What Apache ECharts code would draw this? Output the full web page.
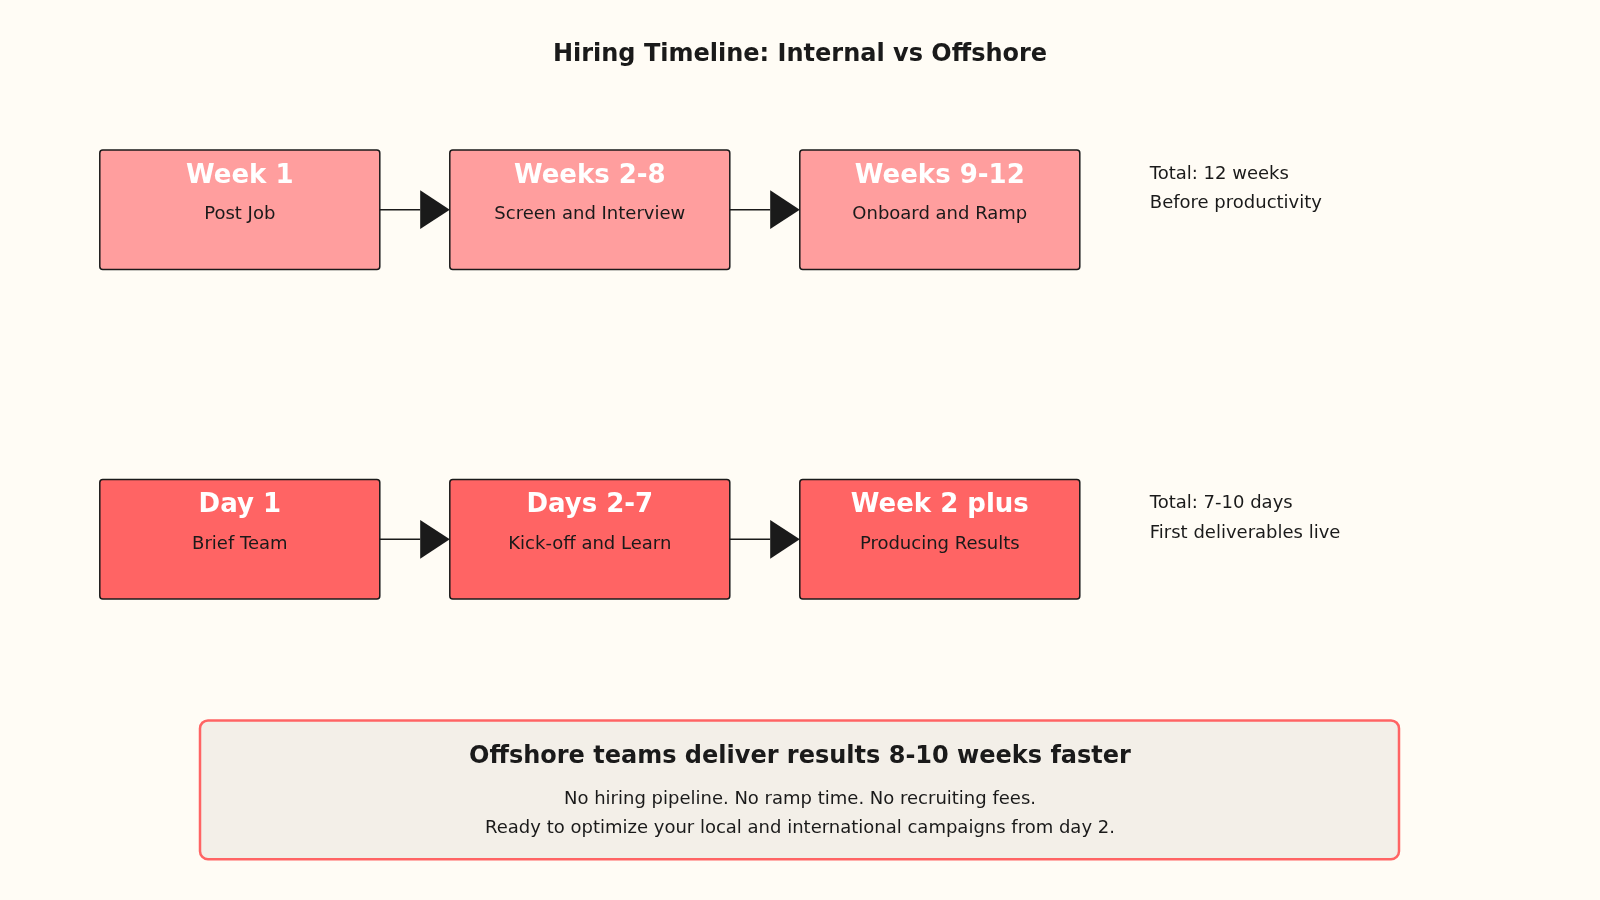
<!DOCTYPE html>
<html><head><meta charset="utf-8">
<script src="https://cdn.jsdelivr.net/npm/echarts@6/dist/echarts.min.js"></script>
<style>html,body{margin:0;padding:0;background:#FFFCF5}#c{width:1600px;height:900px}</style>
</head><body><div id="c"></div>
<script>
const chartTitle = 'Hiring Timeline: Internal vs Offshore';
const rows = ['Internal', 'Offshore'];
const stageTitles = [['Week 1','Weeks 2-8','Weeks 9-12'],['Day 1','Days 2-7','Week 2 plus']];
const stageLabels = [['Post Job','Screen and Interview','Onboard and Ramp'],['Brief Team','Kick-off and Learn','Producing Results']];
const totals = [['Total: 12 weeks','Before productivity'],['Total: 7-10 days','First deliverables live']];
const rowColors = ['#FF9E9E','#FF6464'];
const summaryTitle = 'Offshore teams deliver results 8-10 weeks faster';
const summaryLines = ['No hiring pipeline. No ramp time. No recruiting fees.','Ready to optimize your local and international campaigns from day 2.'];

const boxData = [];
stageTitles.forEach((r, ri) => r.forEach((t, si) => boxData.push([si, ri, t, stageLabels[ri][si], si < r.length - 1 ? 1 : 0])));
const noteData = totals.map((t, ri) => [2.6, ri, t[0], t[1]]);

const F = 'DejaVu Sans, sans-serif';
const X0 = 239.8, DX = 350, Y0 = 209.7, DY = 329.6;
const chart = echarts.init(document.getElementById('c'));
chart.setOption({
  backgroundColor: '#FFFCF5',
  animation: false,
  title: {text: chartTitle, left: 'center', top: 38, textStyle: {fontFamily: F, fontSize: 24, fontWeight: 'bold', color: '#1a1a1a'}},
  grid: {left: 0, top: 0, width: 1600, height: 900},
  xAxis: {type: 'value', min: -X0/DX, max: (1600-X0)/DX, show: false},
  yAxis: {type: 'value', inverse: true, min: -Y0/DY, max: (900-Y0)/DY, show: false},
  series: [{
    type: 'custom',
    data: boxData,
    renderItem: (params, api) => {
      const p = api.coord([api.value(0), api.value(1)]);
      const ri = api.value(1);
      const w = 280, h = 119.5;
      const ch = [
        {type: 'rect', shape: {x: p[0]-w/2, y: p[1]-h/2, width: w, height: h, r: 3}, style: {fill: rowColors[ri], stroke: '#1a1a1a', lineWidth: 1.5}},
        {type: 'text', style: {x: p[0], y: p[1]-33.7, text: api.value(2), fill: '#fff', font: 'bold 26px ' + F, align: 'center', verticalAlign: 'middle'}},
        {type: 'text', style: {x: p[0], y: p[1]+5, text: api.value(3), fill: '#1a1a1a', font: '18px ' + F, align: 'center', verticalAlign: 'middle'}}
      ];
      if (api.value(4)) {
        const x0 = p[0]+w/2, x1 = api.coord([api.value(0)+1, 0])[0]-w/2;
        ch.push({type: 'line', shape: {x1: x0, y1: p[1], x2: x1-29.6, y2: p[1]}, style: {stroke: '#1a1a1a', lineWidth: 1.5}});
        ch.push({type: 'polygon', shape: {points: [[x1-29.6, p[1]-19.4], [x1, p[1]], [x1-29.6, p[1]+19.4]]}, style: {fill: '#1a1a1a'}});
      }
      return {type: 'group', children: ch};
    }
  }, {
    type: 'custom',
    data: noteData,
    renderItem: (params, api) => {
      const p = api.coord([api.value(0), api.value(1)]);
      return {type: 'group', children: [
        {type: 'text', style: {x: p[0], y: p[1]-35.7, text: api.value(2), fill: '#1a1a1a', font: '18px ' + F, verticalAlign: 'middle'}},
        {type: 'text', style: {x: p[0], y: p[1]-6, text: api.value(3), fill: '#1a1a1a', font: '18px ' + F, verticalAlign: 'middle'}}
      ]};
    }
  }],
  graphic: [
    {type: 'rect', shape: {x: 200, y: 720.4, width: 1199, height: 138.8, r: 8}, style: {fill: '#F3EFE8', stroke: '#FF6464', lineWidth: 2.5}},
    {type: 'text', style: {x: 800, y: 756.5, text: summaryTitle, fill: '#1a1a1a', font: 'bold 24px ' + F, align: 'center', verticalAlign: 'middle'}},
    {type: 'text', style: {x: 800, y: 799, text: summaryLines[0], fill: '#1a1a1a', font: '18px ' + F, align: 'center', verticalAlign: 'middle'}},
    {type: 'text', style: {x: 800, y: 828.6, text: summaryLines[1], fill: '#1a1a1a', font: '18px ' + F, align: 'center', verticalAlign: 'middle'}}
  ]
});
</script></body></html>
